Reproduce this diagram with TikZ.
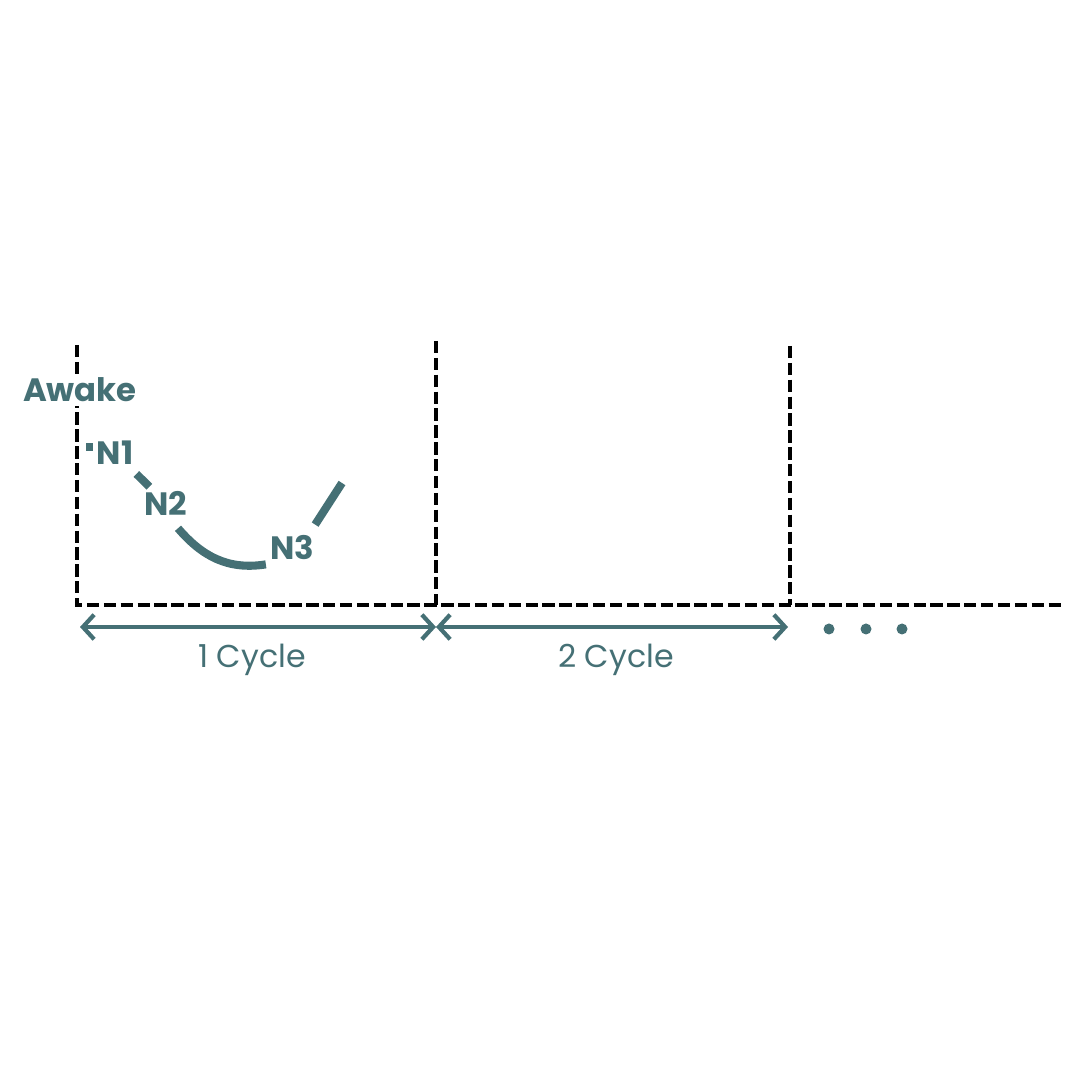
\documentclass[tikz,border=0pt]{standalone}
\usepackage{fontspec}
\setmainfont{Poppins}
\usetikzlibrary{arrows.meta,positioning}
\definecolor{sleepteal}{RGB}{69,112,117}

\begin{document}
\begin{tikzpicture}[every node/.style={font=\fontsize{9}{11}\selectfont},
    grid/.style={line width=1.3pt,dash pattern=on 3.5pt off 1.3pt},
    span/.style={sleepteal,line width=1.2pt,{Straight Barb[length=3.2pt,width=7pt]}-{Straight Barb[length=3.2pt,width=7pt]}},
    hyp/.style={sleepteal,line width=2.3pt},
    stage/.style={text=sleepteal,font=\fontsize{9.2}{11}\selectfont\bfseries,fill=white,inner sep=1pt}]
                \useasboundingbox (0,0) rectangle (10.8,10.8);
                % cycle boundaries
                \draw [grid] (0.77,7.35) -- (0.77,4.75) -- (10.62,4.75);
                \draw [grid] (4.36,7.39) -- (4.36,4.75);
                \draw [grid] (7.90,7.34) -- (7.90,4.75);
                % stages
                \node [stage] (awake) at (0.80,6.90) {Awake};
                \node [stage] (n1) at (1.15,6.27) {N1};
                \node [stage] (n2) at (1.66,5.77) {N2};
                \node [stage] (n3) at (2.92,5.32) {N3};
                \coordinate (s0) at (0.86,6.33);
                \coordinate (s4) at (3.42,5.97);
                \draw [hyp] (s0) -- (s0 -| n1.west);
                \draw [hyp,shorten <=2pt] (n1) -- (n2);
                \draw [hyp] ([xshift=0.12cm,yshift=-0.09cm]n2.south) .. controls +(0.24,-0.28) and +(-0.38,-0.06) .. (n3.south west);
                \draw [hyp] ([xshift=-0.03cm,yshift=0.07cm]n3.north east) -- (s4);
                % cycles
                \coordinate (c0) at (0.80,4.53);
                \coordinate (c1) at (4.36,4.53);
                \coordinate (c2) at (7.88,4.53);
                \draw [span] (c0) -- (c1);
                \draw [span] (c1) -- (c2);
                \node [text=sleepteal,anchor=base] (cyc1) at (2.52,4.12) {1 Cycle};
                \node [text=sleepteal,anchor=base] (cyc2) at (6.16,4.12) {2 Cycle};
                \foreach \x in {8.29,8.66,9.02}
                    \fill [sleepteal] (\x,4.51) circle (0.055cm);
            \end{tikzpicture}
\end{document}
